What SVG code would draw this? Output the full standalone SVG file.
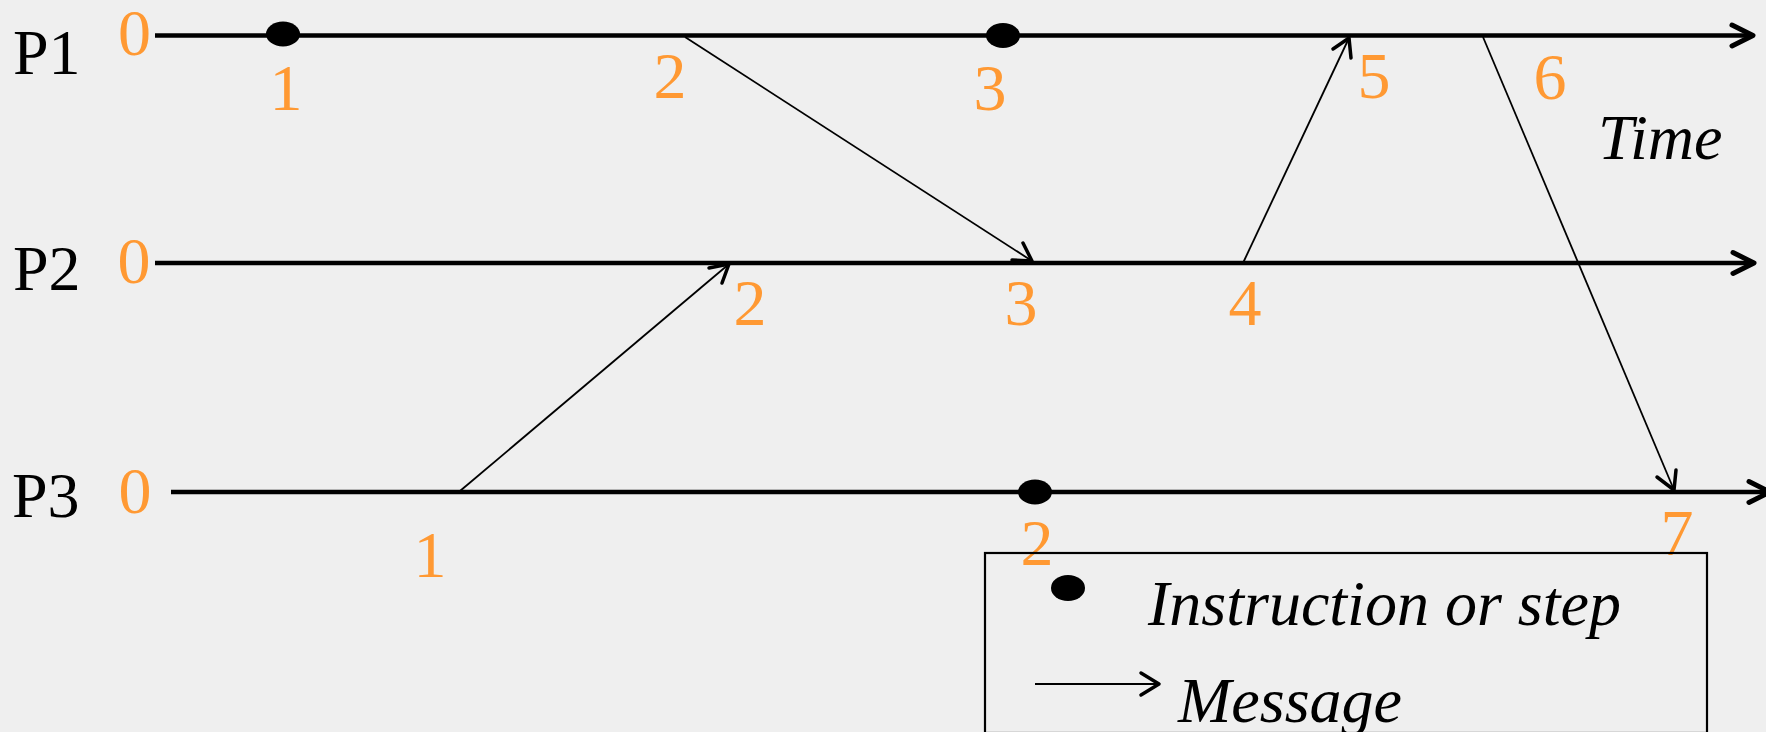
<svg xmlns="http://www.w3.org/2000/svg" width="1766" height="732" viewBox="0 0 1766 732">
<style>
.bg{fill:#efefef}
.proc{font-family:"Liberation Serif","Times New Roman",serif;font-size:64px;fill:#000}
.num{font-family:"Liberation Serif","Times New Roman",serif;font-size:66px;fill:#ff9933;text-anchor:middle}
.it{font-family:"Liberation Serif","Times New Roman",serif;font-size:64px;font-style:italic;fill:#000}
.tl{stroke:#000;stroke-width:4.5;fill:none}
.head{stroke:#000;stroke-width:5;fill:none;stroke-linecap:round;stroke-linejoin:round}
.msg{stroke:#000;stroke-width:1.8;fill:none}
.mhead{stroke:#000;stroke-width:3.5;fill:none;stroke-linecap:round;stroke-linejoin:round}
.dot{fill:#000}
</style>
<rect class="bg" x="0" y="0" width="1766" height="732"/>

<g id="P1">
  <text class="proc" x="13" y="74">P1</text>
  <line class="tl" x1="155" y1="35.5" x2="1752" y2="35.5"/>
  <polyline class="head" points="1732,25 1753,35.5 1732,46"/>
  <text class="num" x="134.5" y="55">0</text>
  <ellipse id="P1-e1" class="dot" cx="283" cy="34" rx="17" ry="12.5"/>
  <text class="num" x="286" y="110">1</text>
  <text class="num" x="670" y="98">2</text>
  <ellipse id="P1-e3" class="dot" cx="1003" cy="35.5" rx="17" ry="12.5"/>
  <text class="num" x="990" y="110">3</text>
  <text class="num" x="1374" y="98">5</text>
  <text class="num" x="1550" y="99">6</text>
  <text class="it" x="1598" y="159">Time</text>
</g>

<g id="P2">
  <text class="proc" x="13" y="290">P2</text>
  <line class="tl" x1="155" y1="263" x2="1752" y2="263"/>
  <polyline class="head" points="1733,252.5 1754,263 1733,273.5"/>
  <text class="num" x="134" y="283">0</text>
  <text class="num" x="750" y="325">2</text>
  <text class="num" x="1021" y="325">3</text>
  <text class="num" x="1245" y="325">4</text>
</g>

<g id="P3">
  <text class="proc" x="12" y="517">P3</text>
  <line class="tl" x1="171" y1="492" x2="1766" y2="492"/>
  <polyline class="head" points="1749,481.5 1770,492 1749,502.5"/>
  <text class="num" x="135" y="513">0</text>
  <text class="num" x="430" y="577">1</text>
  <ellipse id="P3-e2" class="dot" cx="1035" cy="492" rx="17" ry="12.5"/>
  <text class="num" x="1037" y="565">2</text>
  <text class="num" x="1677" y="555">7</text>
</g>

<g id="connectors">
  <line class="msg" x1="685" y1="37" x2="1032" y2="261"/>
  <polyline class="mhead" points="1012,260 1032,261 1023,243"/>
  <line class="msg" x1="460" y1="491" x2="729" y2="264"/>
  <polyline class="mhead" points="709,268 729,264 722,283"/>
  <line class="msg" x1="1243" y1="263" x2="1349" y2="38"/>
  <polyline class="mhead" points="1333,49 1349,38 1351,58"/>
  <line class="msg" x1="1483" y1="37" x2="1674" y2="490"/>
  <polyline class="mhead" points="1657,477 1674,490 1676,470"/>
</g>

<g id="legend">
  <rect x="985" y="553" width="722" height="180" fill="none" stroke="#000" stroke-width="2.2"/>
  <ellipse class="dot" cx="1068" cy="588" rx="17" ry="13"/>
  <text class="it" x="1148" y="625">Instruction or step</text>
  <line x1="1035" y1="684" x2="1158" y2="684" stroke="#000" stroke-width="2"/>
  <polyline class="mhead" points="1141,673 1159,684 1141,695"/>
  <text class="it" x="1178" y="722">Message</text>
</g>
</svg>
